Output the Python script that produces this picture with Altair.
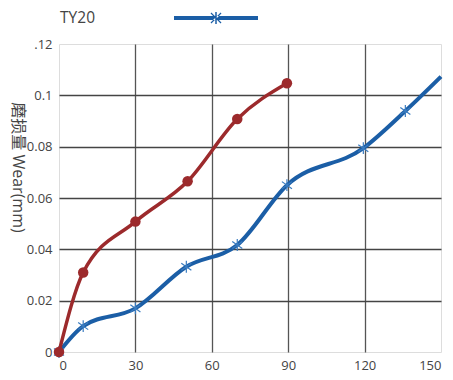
import altair as alt
import pandas as pd

# Red series (no legend entry)
red_x = [0, 9.5, 30, 50.5, 70, 89.5]
red_y = [0, 0.031, 0.0508, 0.0665, 0.0908, 0.1047]

# Blue series "TY20"
blue_x = [0, 9.5, 30, 50, 70, 89.5, 119.5, 136, 150]
blue_y = [0, 0.0101, 0.017, 0.0332, 0.0417, 0.065, 0.0794, 0.0939, 0.1073]
blue_name = "TY20"

x_ticks = [0, 30, 60, 90, 120, 150]
y_ticks = [0, 0.02, 0.04, 0.06, 0.08, 0.1, 0.12]

RED = "#9c2a2c"
BLUE = "#1b5ea6"
FONT = "Open Sans, Noto Sans CJK SC"

red_df = pd.DataFrame({"x": red_x, "y": red_y})
blue_df = pd.DataFrame({"x": blue_x, "y": blue_y, "s": [blue_name] * len(blue_x)})

xs = alt.Scale(domain=[0, 150], nice=False)
ys = alt.Scale(domain=[0, 0.12], nice=False)

xax = alt.Axis(values=x_ticks, title=None, ticks=False, domain=False,
               labelPadding=7, labelFontSize=13, labelColor="#444", labelFont=FONT,
               gridColor="#555", gridWidth=1.3,
               gridOpacity={"condition": {"test": "datum.value == 0 || datum.value == 150", "value": 0}, "value": 1})
yax = alt.Axis(values=y_ticks, title="磨损量 Wear(mm)", ticks=False, domain=False,
               labelPadding=7, labelFontSize=13, labelColor="#444", labelFont=FONT,
               labelExpr="datum.value == 0.12 ? '.12' : format(datum.value, '')",
               titleAngle=90, titleFontSize=16, titleFontWeight="normal", titleColor="#444",
               titleFont=FONT, titleX=-42, titleY=123, titleAlign="center", titleBaseline="middle",
               gridColor="#444", gridWidth=1.3,
               gridOpacity={"condition": {"test": "datum.value == 0 || datum.value == 0.12", "value": 0}, "value": 1})

legend_path = ("M-1,-0.048H1V0.048H-1Z"
               "M-0.018,-0.143H0.018V0.143H-0.018Z"
               "M-0.13,-0.11L-0.11,-0.13L0.13,0.11L0.11,0.13Z"
               "M-0.13,0.11L-0.11,0.13L0.13,-0.11L0.11,-0.13Z")

star_path = "M0,-1V1M-0.85,-0.6L0.85,0.6M-0.85,0.6L0.85,-0.6"

red_line = alt.Chart(red_df).mark_line(color=RED, strokeWidth=3.5, interpolate="monotone").encode(
    x=alt.X("x:Q", scale=xs, axis=xax),
    y=alt.Y("y:Q", scale=ys, axis=yax),
)
red_pts = alt.Chart(red_df).mark_point(filled=True, color=RED, size=110, opacity=1).encode(
    x=alt.X("x:Q", scale=xs), y=alt.Y("y:Q", scale=ys))

blue_line = alt.Chart(blue_df).mark_line(strokeWidth=4, interpolate="monotone").encode(
    x=alt.X("x:Q", scale=xs),
    y=alt.Y("y:Q", scale=ys),
    color=alt.Color("s:N", scale=alt.Scale(domain=[blue_name], range=[BLUE]),
                    legend=alt.Legend(title=None, orient="none", legendX=115, legendY=-68,
                                      labelFontSize=15.5, labelColor="#444", labelFont=FONT,
                                      labelAlign="right", labelOffset={"expr": "-163"}, labelLimit=0,
                                      symbolType=legend_path, symbolSize=7056,
                                      symbolFillColor=BLUE, symbolStrokeColor=BLUE,
                                      symbolStrokeWidth=0, symbolOpacity=1, padding=0,
                                      symbolOffset=0)),
)
blue_pts = alt.Chart(blue_df).transform_filter("datum.x < 150").mark_point(
    shape=star_path, color="#3a7cc0", size=140, strokeWidth=1.2, filled=False, opacity=1).encode(
    x=alt.X("x:Q", scale=xs), y=alt.Y("y:Q", scale=ys))

chart = alt.layer(blue_line, blue_pts, red_line, red_pts).properties(
    width=382, height=308,
    padding={"left": 51, "top": 36, "right": 4, "bottom": 26},
    autosize="none",
).configure_view(stroke="black", strokeWidth=3).configure(background="white")

chart.save("out.html", embed_options={"renderer": "svg", "actions": False})
